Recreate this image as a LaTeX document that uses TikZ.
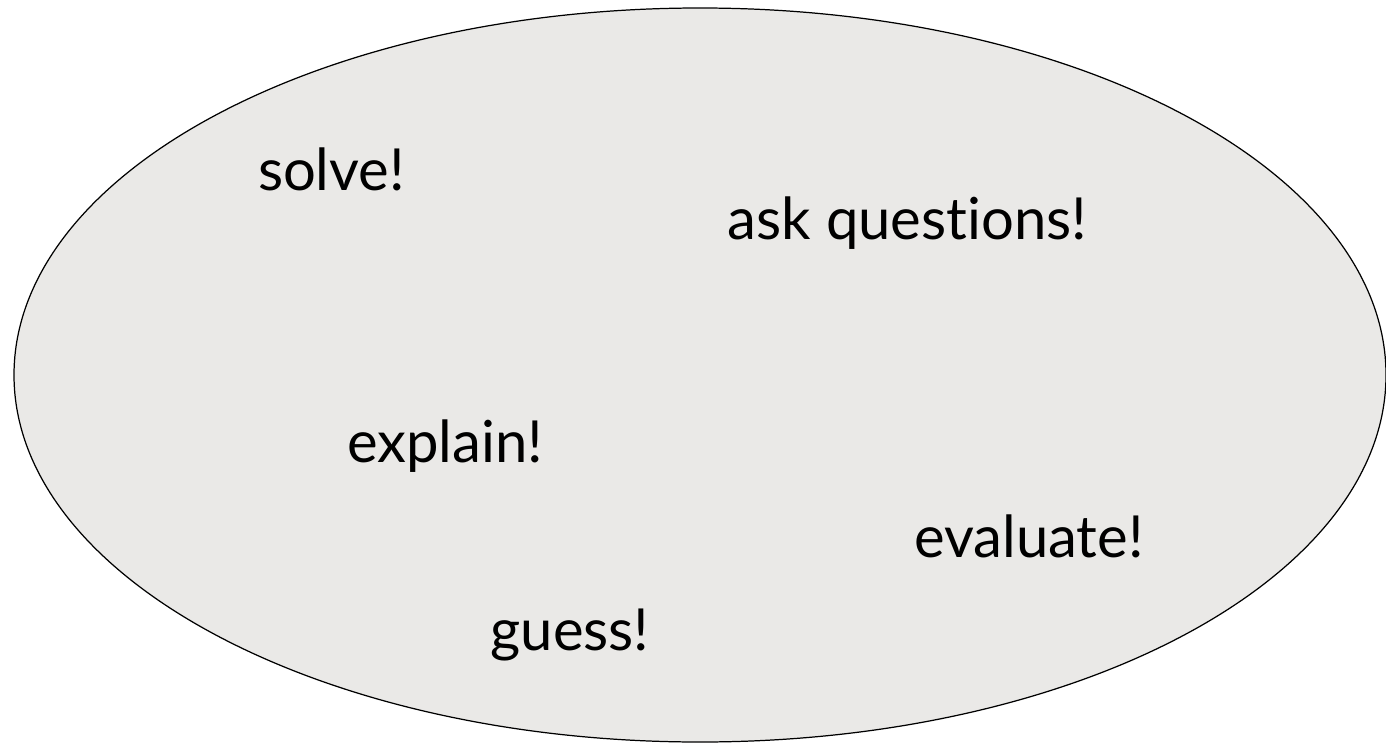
\documentclass[tikz,border=0pt]{standalone}
\usepackage{fontspec}
\setmainfont[Ligatures=NoCommon]{Lato}
\definecolor{blobgray}{HTML}{EAE9E7}

\begin{document}
\begin{tikzpicture}[every node/.style={inner sep=0pt, anchor=base, font=\fontsize{33}{38}\selectfont},
				   blob/.style={draw=black, line width=0.7pt, fill=blobgray}]
\useasboundingbox (0,0) rectangle (27.72,14.88);
\draw[blob] (14.0,7.38) ellipse (13.72 and 7.34);
\node (solve) at (6.63,11.08) {solve!};
\node (ask) at (18.15,10.10) {ask questions!};
\node (explain) at (8.9,5.64) {explain!};
\node (evaluate) at (20.58,3.74) {evaluate!};
\node (guess) at (11.4,1.88) {guess!};
\end{tikzpicture}
\end{document}
